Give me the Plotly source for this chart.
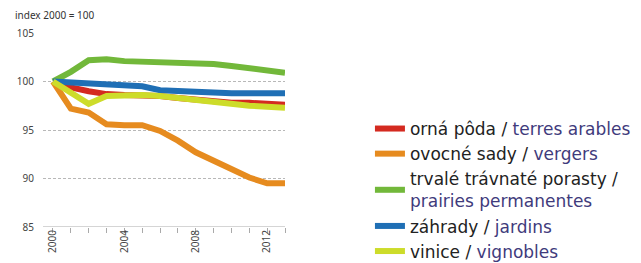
import plotly.graph_objects as go

years = list(range(2000, 2014))
orna = [100, 99.4, 99.0, 98.7, 98.6, 98.6, 98.5, 98.3, 98.1, 97.9, 97.8, 97.8, 97.7, 97.6]
ovocne = [100, 97.2, 96.8, 95.6, 95.5, 95.5, 94.9, 93.9, 92.7, 91.8, 91.0, 90.1, 89.5, 89.5]
trvale = [100, 101.0, 102.2, 102.3, 102.1, 102.05, 102.05, 102.0, 101.9, 101.8, 101.6, 101.4, 101.1, 100.9]
zahrady = [100, 99.9, 99.8, 99.8, 99.7, 99.5, 99.1, 99.0, 98.9, 98.8, 98.8, 98.8, 98.8, 98.8]
vinice = [100, 98.8, 97.7, 98.5, 98.6, 98.6, 98.5, 98.3, 98.1, 97.8, 97.6, 97.5, 97.4, 97.3]

tick_years = [2000, 2004, 2008, 2012]
y_ticks = [85, 90, 95, 100, 105]

FR = "#3f3b7c"
series = [
    ("orná pôda / <span style='color:%s'>terres arables</span>" % FR, orna, "#d42a20"),
    ("ovocné sady / <span style='color:%s'>vergers</span>" % FR, ovocne, "#e68b1f"),
    ("trvalé trávnaté porasty /<br><span style='color:%s'>prairies permanentes</span>" % FR, trvale, "#72b83a"),
    ("záhrady / <span style='color:%s'>jardins</span>" % FR, zahrady, "#1f6fb5"),
    ("vinice / <span style='color:%s'>vignobles</span>" % FR, vinice, "#cddc2a"),
]

fig = go.Figure()
for i, (name, vals, col) in enumerate(series):
    fig.add_trace(go.Scatter(x=years, y=vals, mode="lines", name=name,
                             line=dict(color=col, width=6), legendrank=i + 1))

# page body has an 8px default margin, so the figure is sized 8px smaller
fig.update_layout(
    width=633, height=255,
    margin=dict(l=35, r=356, t=25, b=36, autoexpand=False),
    paper_bgcolor="white", plot_bgcolor="white",
    font=dict(family="Noto Sans", color="#333333"),
    showlegend=True,
    legend=dict(x=1.351, y=0.598, xanchor="left", yanchor="top",
                font=dict(size=17, color="#222222", family="DejaVu Sans"),
                itemwidth=30, tracegroupgap=0, bgcolor="rgba(0,0,0,0)"),
    annotations=[dict(text="index 2000 = 100", xref="paper", yref="paper",
                      x=-0.124, y=1.093, xanchor="left", yanchor="middle",
                      showarrow=False, font=dict(size=10, color="#333333"))],
)
fig.update_xaxes(range=[1999.44, 2013], tickvals=tick_years, tickangle=-90,
                 showgrid=False, zeroline=False, showline=False,
                 ticks="", tickfont=dict(size=10, color="#444444"),
                 minor=dict(dtick=1, tick0=2000, ticks="outside", ticklen=5,
                            tickcolor="#aaaaaa", showgrid=False))
fig.update_yaxes(range=[85, 105], tickvals=y_ticks, showgrid=True,
                 gridcolor="#b8b8b8", griddash="3px,2px", gridwidth=1,
                 zeroline=False, showline=False, ticks="", ticklabelstandoff=8,
                 tickfont=dict(size=10, color="#444444"))
fig.add_hline(y=85, line=dict(color="#aaaaaa", width=1))

fig.write_html("out.html")
